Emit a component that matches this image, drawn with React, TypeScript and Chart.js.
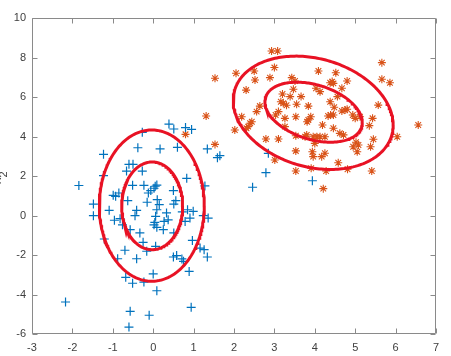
import React, { useEffect, useRef } from "react";
import { Chart, registerables } from "chart.js";

Chart.register(...registerables);

// Class 1 samples ('+', blue)
const blueX = [
  0.39, 0.51, 0.8, 0.95, -0.27, -0.38, 0.17, 0.6, -1.23, -0.6, -0.5, -0.66, -0.27, -1.23, 0.83, 1.34,
  1.59, 1.65, -1.84, -1.48, -1.48, -1.09, -0.99, -0.93, -0.85, -0.51, -0.23, 0.05, -0.06, -0.12, -0.63,
  -0.15, 0.1, 0.15, 0.09, 0.33, -0.41, -0.45, 0.5, 0.56, 0.51, 0.72, 0.85, 0.99, 0.91, 0.79, 1.36,
  -0.96, -0.82, -0.76, -0.57, -0.33, 0.06, 0.04, 0.02, 0.09, 0.27, 0.37, 0.25, 0.51, -0.25, 0.06,
  -0.16, -0.7, -1.21, -0.88, -0.41, 0.5, 0.58, 0.71, 0.75, 0.97, 1.16, 1.26, 1.34, 1.28, 0.89, -0.68,
  -0.51, -0.23, 0.0, 0.09, -2.17, -0.57, -0.1, -0.6, 0.94, 2.46, 3.94, 2.79, 2.85, 0.02, 0.09, 1.24,
];
const blueY = [
  4.63, 4.38, 4.45, 4.36, 4.21, 3.43, 3.37, 3.45, 3.1, 2.59, 2.59, 2.25, 2.25, 2.02, 1.88, 3.37,
  2.93, 3.03, 1.52, 0.58, -0.01, 0.26, 1.02, 0.97, 1.14, 1.53, 1.53, 1.48, 1.26, 1.14, 0.75,
  0.67, 0.8, 0.55, 0.29, 0.13, 0.26, -0.01, 1.26, 0.75, 0.58, 0.18, 0.29, 0.21, -0.13, -0.3, -0.13,
  -0.24, -0.16, -0.47, -0.72, -0.88, -0.04, -0.35, -0.47, -0.6, -0.3, -0.22, -0.72, -0.88, -1.36, -1.56,
  -1.81, -1.76, -1.19, -2.19, -2.19, -2.1, -2.03, -2.2, -2.32, -1.26, -1.65, -1.73, -2.1, 1.5, -2.83, -3.13,
  -3.43, -3.37, -2.96, -3.81, -4.38, -4.85, -5.05, -5.65, -4.65, 1.43, 1.76, 2.17, 3.15, 1.38, 1.54, -0.01,
];

// Class 2 samples ('*', orange)
const orangeX = [
  2.93, 3.08, 2.05, 2.5, 2.52, 3.0, 2.89, 2.3, 3.43, 3.51, 4.09, 4.52, 4.38, 4.43, 4.46, 4.8, 4.67,
  4.03, 4.13, 3.47, 5.66, 5.66, 5.86, 5.57, 6.56, 6.04, 5.43, 5.35, 5.45, 5.38, 5.41, 5.02, 5.08,
  4.95, 5.05, 4.94, 5.0, 5.12, 4.8, 4.75, 4.67, 4.62, 4.71, 4.46, 4.39, 4.46, 4.33, 4.48, 4.38, 4.56,
  4.25, 4.05, 4.13, 3.96, 3.76, 3.8, 4.0, 4.19, 3.81, 3.84, 3.9, 3.53, 3.84, 3.66, 3.55, 3.39, 3.2,
  3.16, 3.22, 3.3, 3.03, 3.1, 3.26, 3.26, 2.64, 2.56, 2.19, 2.4, 2.44, 2.35, 2.31, 2.02, 2.79, 3.1,
  3.53, 3.53, 3.01, 3.94, 3.96, 4.25, 4.17, 4.58, 3.53, 4.28, 3.91, 4.81, 4.21, 1.31, 0.8, 1.53, 1.53,
];
const orangeY = [
  8.33, 8.33, 7.2, 7.32, 6.86, 7.49, 6.98, 6.35, 6.98, 6.81, 7.32, 7.23, 6.72, 6.78, 6.69, 6.81, 6.44,
  6.44, 6.27, 6.39, 7.74, 6.9, 6.72, 5.59, 4.58, 3.99, 4.92, 4.55, 3.86, 3.48, 2.25, 3.71, 3.57,
  3.48, 3.23, 5.09, 4.92, 5.0, 5.38, 5.34, 5.29, 4.16, 4.08, 4.42, 5.09, 5.09, 5.04, 5.48, 5.76, 6.02,
  3.99, 3.99, 3.99, 3.99, 3.99, 4.08, 3.65, 4.58, 4.75, 4.84, 5.0, 5.0, 5.54, 6.02, 5.63, 6.02, 6.15,
  5.76, 5.68, 5.58, 5.09, 5.26, 4.92, 4.5, 5.54, 5.26, 5.0, 4.67, 4.75, 4.5, 4.42, 4.33, 3.87, 3.87,
  4.04, 3.27, 2.81, 3.23, 2.98, 3.15, 2.98, 2.67, 2.25, 2.25, 2.39, 2.34, 1.36, 5.04, 4.11, 6.95, 3.6,
];

// Contour ellipses: centre, horizontal half-extent, vertical half-extent, cross term
const ellipseCx = [-0.025, -0.035, 3.97, 3.96];
const ellipseCy = [0.49, 0.5, 5.23, 5.2];
const ellipseA = [0.755, 1.3, 1.205, 1.98];
const ellipseB = [2.22, 3.83, 1.52, 2.87];
const ellipseC = [0, 0, -0.63, -1.23];

const xTicks = [-3, -2, -1, 0, 1, 2, 3, 4, 5, 6, 7];
const yTicks = [-6, -4, -2, 0, 2, 4, 6, 8, 10];

const AXIS_COLOR = "#8a8a8a";
const TEXT_COLOR = "#404040";
const FONT_FAMILY = "'Liberation Sans', Arial, sans-serif";

function ellipsePoints(i: number) {
  const pts: { x: number; y: number }[] = [];
  const a = ellipseA[i];
  const l21 = ellipseC[i] / a;
  const l22 = Math.sqrt(ellipseB[i] * ellipseB[i] - l21 * l21);
  const n = 240;
  for (let k = 0; k <= n; k++) {
    const t = (2 * Math.PI * k) / n;
    pts.push({
      x: ellipseCx[i] + a * Math.cos(t),
      y: ellipseCy[i] + l21 * Math.cos(t) + l22 * Math.sin(t),
    });
  }
  return pts;
}

const boxPlugin = {
  id: "matlabBox",
  afterDatasetsDraw(chart: any) {
    const { ctx, chartArea } = chart;
    const { left, right, top, bottom } = chartArea;
    const xs = chart.scales.x;
    const ys = chart.scales.y;
    const L = Math.round(left) + 0.5;
    const R = Math.round(right) - 0.5;
    const T = Math.round(top) + 0.5;
    const B = Math.round(bottom) - 0.5;
    ctx.save();
    ctx.strokeStyle = AXIS_COLOR;
    ctx.lineWidth = 1;
    ctx.beginPath();
    ctx.rect(L, T, R - L, B - T);
    const tl = 5;
    xTicks.forEach((v) => {
      const px = Math.round(xs.getPixelForValue(v)) + 0.5;
      ctx.moveTo(px, B);
      ctx.lineTo(px, B - tl);
      ctx.moveTo(px, T);
      ctx.lineTo(px, T + tl);
    });
    yTicks.forEach((v) => {
      const py = Math.round(ys.getPixelForValue(v)) + 0.5;
      ctx.moveTo(L, py);
      ctx.lineTo(L + tl, py);
      ctx.moveTo(R, py);
      ctx.lineTo(R - tl, py);
    });
    ctx.stroke();
    ctx.restore();

    // y-axis label, mostly clipped at the left edge as in the source image
    ctx.save();
    ctx.fillStyle = TEXT_COLOR;
    ctx.translate(1, 184);
    ctx.rotate(-Math.PI / 2);
    ctx.textBaseline = "alphabetic";
    ctx.textAlign = "left";
    ctx.font = `13px ${FONT_FAMILY}`;
    ctx.fillText("x", 0, 0);
    const w = ctx.measureText("x").width;
    ctx.font = `11px ${FONT_FAMILY}`;
    ctx.fillText("2", w, 6);
    ctx.restore();
  },
};

export default function App() {
  const ref = useRef<HTMLCanvasElement | null>(null);

  useEffect(() => {
    document.body.style.margin = "0";
    const canvas = ref.current;
    if (!canvas) return;

    const ellipseSets = ellipseCx.map((_, i) => ({
      type: "line" as const,
      data: ellipsePoints(i),
      borderColor: "rgb(232,18,36)",
      borderWidth: 3,
      pointRadius: 0,
      showLine: true,
      fill: false,
      tension: 0,
      order: 0,
    }));

    const chart = new Chart(canvas, {
      type: "scatter",
      data: {
        datasets: [
          ...ellipseSets,
          {
            data: blueX.map((x, i) => ({ x, y: blueY[i] })),
            pointStyle: "cross",
            pointRadius: 4.5,
            borderColor: "#0072BD",
            backgroundColor: "#0072BD",
            pointBorderWidth: 1.2,
            order: 1,
          } as any,
          {
            data: orangeX.map((x, i) => ({ x, y: orangeY[i] })),
            pointStyle: "star",
            pointRadius: 4,
            borderColor: "#D95319",
            backgroundColor: "#D95319",
            pointBorderWidth: 1.1,
            order: 1,
          } as any,
        ],
      },
      options: {
        responsive: false,
        animation: false,
        layout: { padding: { top: 18, right: 15, left: 0, bottom: 0 } },
        plugins: {
          legend: { display: false },
          tooltip: { enabled: false },
        },
        scales: {
          x: {
            type: "linear",
            min: -3,
            max: 7,
            afterBuildTicks: (s: any) => {
              s.ticks = xTicks.map((v) => ({ value: v }));
            },
            afterFit: (s: any) => {
              s.height = 22;
            },
            grid: { display: false, drawTicks: false },
            border: { display: false },
            ticks: {
              color: TEXT_COLOR,
              font: { family: FONT_FAMILY, size: 11 },
              padding: 7,
              maxRotation: 0,
              autoSkip: false,
            },
          },
          y: {
            type: "linear",
            min: -6,
            max: 10,
            afterBuildTicks: (s: any) => {
              s.ticks = yTicks.map((v) => ({ value: v }));
            },
            afterFit: (s: any) => {
              s.width = 32;
            },
            grid: { display: false, drawTicks: false },
            border: { display: false },
            ticks: {
              color: TEXT_COLOR,
              font: { family: FONT_FAMILY, size: 11 },
              padding: 6,
              autoSkip: false,
            },
          },
        },
      },
      plugins: [boxPlugin],
    });

    return () => chart.destroy();
  }, []);

  return (
    <div style={{ width: 451, height: 356, background: "#fff" }}>
      <canvas ref={ref} width={451} height={356} style={{ display: "block" }} />
    </div>
  );
}
